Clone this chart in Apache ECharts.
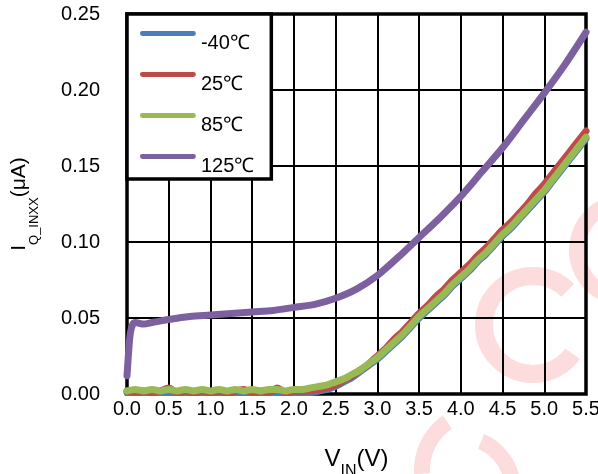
<!DOCTYPE html>
<html>
<head>
<meta charset="utf-8">
<script src="https://cdn.jsdelivr.net/npm/echarts@6/dist/echarts.min.js"></script>
<style>html,body{margin:0;padding:0;background:#fff}#c{width:598px;height:474px}</style>
</head>
<body>
<div id="c"></div>
<script>
// ---- data ----
var seriesNames = ['-40\u2103', '25\u2103', '85\u2103', '125\u2103'];
var xTicks = ['0.0','0.5','1.0','1.5','2.0','2.5','3.0','3.5','4.0','4.5','5.0','5.5'];
var yTicks = ['0.00','0.05','0.10','0.15','0.20','0.25'];

var vin = [0.0,0.1,0.2,0.3,0.4,0.5,0.6,0.7,0.8,0.9,1.0,1.1,1.2,1.3,1.4,1.5,1.6,1.7,1.8,1.9,
           2.0,2.1,2.2,2.3,2.4,2.5,2.6,2.7,2.8,2.9,3.0,3.1,3.2,3.3,3.4,3.5,3.6,3.7,3.8,3.9,
           4.0,4.1,4.2,4.3,4.4,4.5,4.6,4.7,4.8,4.9,5.0,5.1,5.2,5.3,5.4,5.5];
var iqM40 = [0.001,0.001,0.001,0.001,0.001,0.001,0.001,0.001,0.001,0.001,0.001,0.001,0.001,0.001,0.001,0.001,0.001,0.001,0.001,0.001,
             0.001,0.001,0.001,0.002,0.003,0.005,0.008,0.011,0.015,0.019,0.023,0.028,0.033,0.038,0.044,0.050,0.055,0.060,0.065,0.071,
             0.076,0.081,0.087,0.092,0.098,0.104,0.109,0.115,0.121,0.127,0.133,0.140,0.147,0.154,0.161,0.168];
var iq25 = [0.002,0.001,0.002,0.001,0.002,0.004,0.001,0.002,0.001,0.002,0.001,0.002,0.001,0.002,0.003,0.001,0.002,0.001,0.004,0.001,
            0.002,0.002,0.002,0.003,0.004,0.006,0.009,0.012,0.016,0.020,0.025,0.030,0.036,0.041,0.047,0.053,0.058,0.064,0.069,0.075,
            0.080,0.085,0.091,0.096,0.102,0.108,0.113,0.119,0.125,0.132,0.138,0.145,0.152,0.159,0.166,0.173];
var iq85 = [0.002,0.003,0.002,0.003,0.002,0.003,0.002,0.003,0.002,0.003,0.002,0.003,0.002,0.003,0.002,0.003,0.002,0.003,0.003,0.002,
            0.003,0.003,0.004,0.005,0.006,0.008,0.010,0.013,0.016,0.020,0.024,0.029,0.034,0.039,0.045,0.051,0.056,0.061,0.066,0.072,
            0.077,0.082,0.088,0.093,0.099,0.105,0.110,0.116,0.122,0.128,0.134,0.141,0.148,0.155,0.162,0.169];
var vin125 = [0.0,0.02,0.04,0.07,0.1,0.2,0.3,0.5,0.75,1.0,1.25,1.5,1.75,2.0,2.25,2.5,2.75,3.0,3.25,3.5,3.75,4.0,4.25,4.5,4.75,5.0,5.25,5.5];
var iq125 = [0.012,0.028,0.040,0.046,0.047,0.046,0.047,0.049,0.051,0.052,0.053,0.054,0.055,0.057,0.059,0.063,0.069,0.078,0.090,0.103,0.116,0.130,0.146,0.162,0.180,0.198,0.217,0.238];

var colors = ['#4a7ebb', '#be4b48', '#98b954', '#7d60a0'];

function pairs(xs, ys) { return xs.map(function (x, i) { return [x, ys[i]]; }); }

var chart = echarts.init(document.getElementById('c'));
var font = 'Liberation Sans, Arial, sans-serif';
var pink = 'rgba(245,80,90,0.2)';

function mkSeries(name, xs, ys, color) {
  return {
    name: name, type: 'line', data: pairs(xs, ys), showSymbol: false, symbol: 'none',
    smooth: 0.3, lineStyle: { color: color, width: 7, cap: 'round', join: 'round' },
    itemStyle: { color: color }, emphasis: { disabled: true }, animation: false
  };
}

// legend swatch: rounded bar at the top of the item box, so the text sits lower (as in the reference)
var swatch = 'path://M2.5,0 L53.5,0 A2.5,2.5 0 0 1 53.5,5 L2.5,5 A2.5,2.5 0 0 1 2.5,0 Z M0,25 L0.05,25 L0.05,25.05 Z';

chart.setOption({
  animation: false,
  textStyle: { fontFamily: font },
  graphic: [
    { type: 'arc', z: -10, shape: { cx: 533, cy: 325, r: 49, startAngle: -Math.PI * 0.25, endAngle: Math.PI * 0.2, clockwise: false }, style: { stroke: pink, lineWidth: 18, fill: 'none' } },
    { type: 'arc', z: -10, shape: { cx: 625, cy: 250, r: 48, startAngle: Math.PI * 0.6, endAngle: Math.PI * 1.45, clockwise: true }, style: { stroke: pink, lineWidth: 16, fill: 'none' } },
    { type: 'arc', z: -10, shape: { cx: 480, cy: 470, r: 58, startAngle: Math.PI * 0.98, endAngle: Math.PI * 1.31, clockwise: true }, style: { stroke: pink, lineWidth: 16, fill: 'none' } },
    { type: 'arc', z: -10, shape: { cx: 460, cy: 490, r: 53, startAngle: Math.PI * 1.63, endAngle: Math.PI * 1.92, clockwise: true }, style: { stroke: pink, lineWidth: 16, fill: 'none' } }
  ],
  grid: { left: 127, right: 12, top: 14, bottom: 80, outerBoundsMode: 'none', containLabel: false,
          show: true, borderColor: '#000', borderWidth: 3.5, backgroundColor: 'transparent' },
  legend: {
    data: seriesNames, orient: 'vertical', left: 127, top: 14,
    backgroundColor: '#fff', borderColor: '#000', borderWidth: 3.5, borderRadius: 0,
    padding: [17, 17, 0, 13], itemGap: 16, itemWidth: 56, itemHeight: 25, icon: swatch,
    textStyle: { fontSize: 20, color: '#000', fontFamily: font }
  },
  xAxis: {
    type: 'value', min: 0, max: 5.5, interval: 0.5,
    name: '{a|V}{b|IN}{a|(V)}', nameLocation: 'middle', nameGap: 50,
    nameTextStyle: { rich: {
      a: { fontSize: 24, color: '#000', fontFamily: font, lineHeight: 30 },
      b: { fontSize: 16, color: '#000', fontFamily: font, lineHeight: 30, verticalAlign: 'bottom', padding: [0, 0, -6, 0] } } },
    axisLine: { show: false }, axisTick: { show: false },
    axisLabel: { fontSize: 20, color: '#000', margin: 5, formatter: function (v) { return xTicks[Math.round(v / 0.5)]; } },
    splitLine: { show: true, lineStyle: { color: '#000', width: 2 } }
  },
  yAxis: {
    type: 'value', min: 0, max: 0.25, interval: 0.05,
    name: '{a|I}{b|Q_INXX}{a|(\u03bcA)}', nameLocation: 'middle', nameGap: 94,
    nameTextStyle: { rich: {
      a: { fontSize: 21, color: '#000', fontFamily: font, lineHeight: 28 },
      b: { fontSize: 13, color: '#000', fontFamily: font, lineHeight: 28, verticalAlign: 'bottom', padding: [0, 0, -8, 0] } } },
    axisLine: { show: false }, axisTick: { show: false },
    axisLabel: { fontSize: 20, color: '#000', margin: 27, formatter: function (v) { return yTicks[Math.round(v / 0.05)]; } },
    splitLine: { show: true, lineStyle: { color: '#000', width: 2 } }
  },
  series: [
    mkSeries(seriesNames[0], vin, iqM40, colors[0]),
    mkSeries(seriesNames[1], vin, iq25, colors[1]),
    mkSeries(seriesNames[2], vin, iq85, colors[2]),
    mkSeries(seriesNames[3], vin125, iq125, colors[3])
  ]
});
</script>
</body>
</html>
